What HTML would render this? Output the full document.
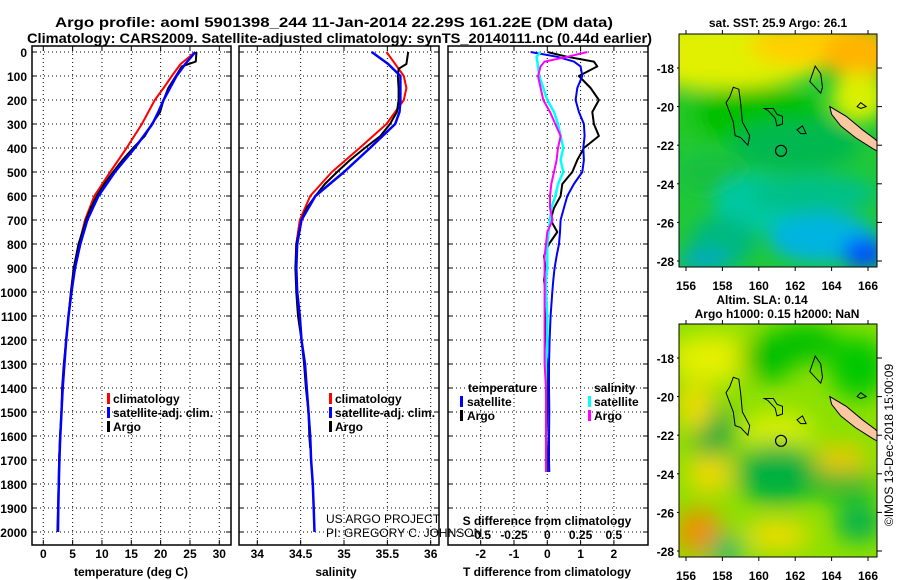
<!DOCTYPE html>
<html><head><meta charset="utf-8"><style>
html,body{margin:0;padding:0;background:#fff;}
svg{display:block;font-family:"Liberation Sans",sans-serif;}
.b{font-weight:bold;font-size:12px;}
.t{font-weight:bold;font-size:14px;}
</style></head><body>
<svg id="chart" width="900" height="580" viewBox="0 0 900 580" xmlns="http://www.w3.org/2000/svg">
<defs>
<filter id="blur1" x="-20%" y="-20%" width="140%" height="140%"><feGaussianBlur stdDeviation="9"/></filter>
<filter id="blur2" x="-20%" y="-20%" width="140%" height="140%"><feGaussianBlur stdDeviation="12"/></filter>
<clipPath id="clipMap1"><rect x="679" y="34" width="198" height="233"/></clipPath>
<clipPath id="clipMap2"><rect x="679" y="324" width="198" height="233"/></clipPath>
</defs>
<text class="t" x="55" y="27" textLength="558" lengthAdjust="spacingAndGlyphs">Argo profile: aoml 5901398_244 11-Jan-2014 22.29S 161.22E (DM data)</text>
<text class="t" x="27" y="43" textLength="625" lengthAdjust="spacingAndGlyphs">Climatology: CARS2009. Satellite-adjusted climatology: synTS_20140111.nc (0.44d earlier)</text>
<g id="panels"></g>
<g id="maps"></g>
</svg>
<script>
// ---------- data ----------
const depthTicks = [0,100,200,300,400,500,600,700,800,900,1000,1100,1200,1300,1400,1500,1600,1700,1800,1900,2000];
const tempTicks = [0,5,10,15,20,25,30];
const salTicks = [34,34.5,35,35.5,36];
const tdiffTicks = [-2,-1,0,1,2];
const sdiffTicks = [-0.5,-0.25,0,0.25,0.5];
const sdiffTickLabels = ["-0.5","-0.25","0","0.25","0.5"];

const argoDepth = [0,40,60,100,150,200,250,300,350,400,450,500,550,600,650,700,800,900,1000,1100,1200,1300,1400,1500,1600,1700,1800,1900,2000];
const argoTemp  = [26.1,26.0,23.6,22.6,21.3,20.5,19.9,18.5,17.3,15.3,13.5,11.9,10.4,9.1,8.1,7.3,6.0,5.2,4.7,4.3,3.9,3.5,3.2,3.1,2.85,2.7,2.6,2.5,2.4];
const argoSalDepth = [0,50,70,100,150,200,250,300,350,400,450,500,550,600,650,700,800,900,1000,1100,1200,1300,1400,1500,1600,1650];
const argoSal   = [35.74,35.72,35.63,35.62,35.63,35.63,35.61,35.53,35.42,35.24,35.07,34.92,34.78,34.67,34.57,34.51,34.45,34.44,34.45,34.47,34.51,34.54,34.56,34.59,34.6,34.61];

const climDepth = [0,50,100,150,200,300,400,500,600,700,800,900,1000,1100,1200,1300,1400,1500,1600,1700];
const climTemp  = [25.9,23.4,21.9,20.5,19.0,16.8,14.2,11.4,8.7,7.1,6.1,5.2,4.7,4.3,3.9,3.6,3.3,3.1,2.9,2.7];
const climSal   = [35.49,35.59,35.69,35.72,35.69,35.49,35.18,34.86,34.61,34.49,34.45,34.45,34.46,34.49,34.51,34.55,34.57,34.59,34.61,34.62];

const satDepth = [0,50,100,150,200,250,300,400,500,600,700,800,900,1000,1100,1200,1300,1400,1500,1600,1700,1800,1900,2000];
const satTemp  = [25.9,24.2,22.7,21.6,20.5,19.6,18.6,15.6,12.2,9.4,7.5,6.3,5.4,4.8,4.3,3.9,3.6,3.3,3.1,2.9,2.75,2.65,2.55,2.5];
const satSal   = [35.32,35.51,35.65,35.65,35.65,35.64,35.59,35.3,35.0,34.67,34.51,34.46,34.45,34.46,34.49,34.51,34.55,34.57,34.59,34.61,34.62,34.64,34.65,34.66];

const diffDepth = [0,20,40,60,100,150,200,250,300,350,400,450,500,550,600,650,700,750,800,850,900,950,1000,1100,1200,1300,1400,1500,1600,1700,1750];
const tSatDiff  = [-0.5,0.3,0.8,1.0,1.05,0.9,0.85,0.95,1.1,1.12,1.08,1.1,1.05,0.8,0.6,0.5,0.4,0.38,0.35,0.28,0.22,0.18,0.15,0.1,0.07,0.05,0.05,0.06,0.05,0.05,0.06];
const tArgoDiff = [0.0,0.6,1.4,1.5,0.95,1.3,1.55,1.35,1.4,1.55,1.1,0.9,0.75,0.45,0.4,0.2,0.1,0.3,0.05,-0.1,-0.05,-0.1,-0.05,-0.05,-0.05,0.0,0.0,0.0,-0.02,0.0,0.0];
const sSatDiff  = [-0.05,-0.08,-0.075,-0.07,-0.06,-0.03,0.0,0.05,0.08,0.1,0.12,0.1,0.12,0.08,0.06,0.03,0.02,0.01,0.0,0.0,0.0,-0.01,-0.01,0.0,0.0,-0.01,-0.01,-0.01,-0.01,-0.01,-0.01];
const sArgoDiff = [0.3,0.15,-0.02,-0.05,-0.07,-0.05,-0.03,0.02,0.06,0.1,0.08,0.07,0.05,0.03,0.02,0.02,0.04,0.0,-0.01,-0.02,-0.02,-0.02,-0.02,-0.02,-0.02,-0.02,-0.01,-0.01,-0.01,-0.01,-0.01];

const mapLonTicks = [156,158,160,162,164,166];
const mapLatTicks = [-18,-20,-22,-24,-26,-28];
const floatLon = 161.22, floatLat = -22.29;

// ---------- helpers ----------
const NS = "http://www.w3.org/2000/svg";
const Y0 = 52, PXD = 0.24, PB = 545, PT = 46;
function yD(d){ return Y0 + d*PXD; }
function mk(tag, attrs, parent){ const e=document.createElementNS(NS,tag); for(const k in attrs) e.setAttribute(k,attrs[k]); if(parent) parent.appendChild(e); return e; }
const panels = document.getElementById('panels');

function drawPanel(name, x0, x1, xf, ticks, tickLabels, showDepth){
  const g = mk('g',{},panels);
  
  
  mk('rect',{x:x0,y:PT,width:x1-x0,height:PB-PT,fill:'#fff',stroke:'#000','stroke-width':1.5},g);
  depthTicks.forEach(d=>{
    const y=yD(d);
    const gl = mk('line',{x1:x0,x2:x1,y1:y,y2:y,stroke:'#000','stroke-width':1,'stroke-dasharray':'1 3'},g);
    
    
    mk('line',{x1:x0,x2:x0+5,y1:y,y2:y,stroke:'#000'},g);
    mk('line',{x1:x1-5,x2:x1,y1:y,y2:y,stroke:'#000'},g);
    if(showDepth){
      const t = mk('text',{x:27,y:y+5,'text-anchor':'end',class:'b'},g);
      t.textContent = d;
      
      
    }
  });
  ticks.forEach((v,i)=>{
    const x=xf(v);
    const gl = mk('line',{x1:x,x2:x,y1:PT,y2:PB,stroke:'#000','stroke-width':1,'stroke-dasharray':'1 3'},g);
    
    
    mk('line',{x1:x,x2:x,y1:PT,y2:PT+5,stroke:'#000'},g);
    mk('line',{x1:x,x2:x,y1:PB-5,y2:PB,stroke:'#000'},g);
    const t = mk('text',{x:x,y:558,'text-anchor':'middle',class:'b'},g);
    t.textContent = tickLabels ? tickLabels[i] : v;
    
    
  });
  return g;
}
function line(g, depths, vals, xf, color, w, name){
  const pts = depths.map((d,i)=>xf(vals[i]).toFixed(1)+','+yD(d).toFixed(1)).join(' ');
  const p = mk('polyline',{points:pts,fill:'none',stroke:color,'stroke-width':w,'stroke-linejoin':'round'},g);
  
  
}
function label(g, x, y, txt, name, cls, anchor){
  const t = mk('text',{x:x,y:y,class:cls||'b','text-anchor':anchor||'start'},g);
  t.textContent = txt;
  
  
  return t;
}
function legendBar(g,x,y,color,name){
  const r = mk('rect',{x:x,y:y-10,width:3,height:11,fill:color},g);
  
  
}

// Panel 1: temperature
const xT = v => 43.3 + v*5.867;
const g1 = drawPanel('temperature-panel', 32, 231, xT, tempTicks, null, true);
line(g1, climDepth, climTemp, xT, '#ff0000', 2, 'temperature-climatology-line');
line(g1, argoDepth, argoTemp, xT, '#000000', 2, 'temperature-argo-line');
line(g1, satDepth, satTemp, xT, '#0000ff', 2.5, 'temperature-satellite-line');
label(g1, 131, 576, 'temperature (deg C)', 'temperature-axis-title', 'b', 'middle');
legendBar(g1,107,403,'#ff0000','legend-climatology-swatch'); label(g1,113,403,'climatology','legend-climatology');
legendBar(g1,107,417,'#0000ff','legend-satellite-swatch'); label(g1,113,417,'satellite-adj. clim.','legend-satellite');
legendBar(g1,107,431,'#000000','legend-argo-swatch'); label(g1,113,431,'Argo','legend-argo');

// Panel 2: salinity
const xS = v => 257.3 + (v-34)*86.7;
const g2 = drawPanel('salinity-panel', 239, 439, xS, salTicks, null, false);
line(g2, climDepth, climSal, xS, '#ff0000', 2, 'salinity-climatology-line');
line(g2, argoSalDepth, argoSal, xS, '#000000', 2, 'salinity-argo-line');
line(g2, satDepth, satSal, xS, '#0000ff', 2.5, 'salinity-satellite-line');
label(g2, 336, 576, 'salinity', 'salinity-axis-title', 'b', 'middle');
legendBar(g2,329,403,'#ff0000','legend2-climatology-swatch'); label(g2,335,403,'climatology','legend2-climatology');
legendBar(g2,329,417,'#0000ff','legend2-satellite-swatch'); label(g2,335,417,'satellite-adj. clim.','legend2-satellite');
legendBar(g2,329,431,'#000000','legend2-argo-swatch'); label(g2,335,431,'Argo','legend2-argo');

// Panel 3: differences
const xTD = v => 547.3 + v*33.3;
const xSD = v => 547.3 + v*133.2;
const g3 = drawPanel('difference-panel', 448, 648, xTD, tdiffTicks, null, false);
sdiffTicks.forEach((v,i)=>{
  label(g3, xSD(v), 539, sdiffTickLabels[i], 'sdiff-tick-label', 'b', 'middle');
});
line(g3, diffDepth, tArgoDiff, xTD, '#000000', 2, 'tdiff-argo-line');
line(g3, diffDepth, tSatDiff, xTD, '#0000ff', 2, 'tdiff-satellite-line');
line(g3, diffDepth, sSatDiff, xSD, '#00ffff', 2.5, 'sdiff-satellite-line');
line(g3, diffDepth, sArgoDiff, xSD, '#ff00ff', 2, 'sdiff-argo-line');
label(g3, 547, 525, 'S difference from climatology', 'sdiff-axis-title', 'b', 'middle');
label(g3, 547, 576, 'T difference from climatology', 'tdiff-axis-title', 'b', 'middle');
label(g3, 468, 392, 'temperature', 'legend3-temperature-header');
legendBar(g3,460,406,'#0000ff','legend3-tsat-swatch'); label(g3,467,406,'satellite','legend3-tsat');
legendBar(g3,460,420,'#000000','legend3-targo-swatch'); label(g3,467,420,'Argo','legend3-targo');
label(g3, 594, 392, 'salinity', 'legend3-salinity-header');
legendBar(g3,588,406,'#00ffff','legend3-ssat-swatch'); label(g3,594,406,'satellite','legend3-ssat');
legendBar(g3,588,420,'#ff00ff','legend3-sargo-swatch'); label(g3,594,420,'Argo','legend3-sargo');

const credit = mk('g',{},panels);


const c1 = mk('text',{x:326,y:523,'font-size':'12'},credit); c1.textContent='US ARGO PROJECT';
const c2 = mk('text',{x:326,y:537,'font-size':'12'},credit); c2.textContent='PI: GREGORY C. JOHNSON';

// ---------- maps ----------
const maps = document.getElementById('maps');
function drawMap(name, top, clipId, bg, blobs, blurId){
  const g = mk('g',{},maps);
  
  
  const lx = lon => 686 + (lon-156)*18.2;
  const ly = lat => top + 34 + (-18-lat)*19.3;
  const inner = mk('g',{'clip-path':'url(#'+clipId+')'},g);
  mk('rect',{x:679,y:top,width:198,height:233,fill:bg},inner);
  const bg2 = mk('g',{filter:'url(#'+blurId+')'},inner);
  blobs.forEach(b=>mk('ellipse',{cx:lx(b[0]),cy:ly(b[1]),rx:b[2]*18.2,ry:b[3]*19.3,fill:b[4]},bg2));
  const isl = (pts,fill)=>{ const p=mk('polygon',{points:pts.map(q=>lx(q[0]).toFixed(1)+','+ly(q[1]).toFixed(1)).join(' '),fill:fill||'none',stroke:'#000','stroke-width':1},inner);   };
  isl([[158.4,-19.5],[158.6,-19.0],[158.9,-19.1],[159.0,-19.8],[159.1,-20.8],[159.5,-21.5],[159.4,-22.0],[159.0,-21.6],[158.7,-21.5],[158.6,-20.8],[158.4,-20.3],[158.2,-19.8]]);
  isl([[160.3,-20.1],[160.8,-20.1],[161.0,-20.4],[161.3,-20.5],[161.3,-20.9],[161.0,-21.0],[160.9,-20.6],[160.5,-20.2]]);
  isl([[162.1,-21.2],[162.4,-21.0],[162.6,-21.4],[162.3,-21.4]]);
  isl([[162.8,-18.7],[163.1,-17.9],[163.4,-18.3],[163.5,-19.0],[163.4,-19.3],[163.1,-19.0]]);
  isl([[165.4,-20.0],[165.6,-19.8],[165.9,-20.0],[165.6,-20.1]]);
  isl([[163.9,-20.0],[164.8,-20.5],[165.7,-21.2],[166.4,-21.7],[166.9,-22.2],[166.9,-22.5],[166.3,-22.2],[165.3,-21.6],[164.5,-21.0],[164.0,-20.4]],'#fac8a0');
  const circ = mk('circle',{cx:lx(floatLon),cy:ly(floatLat),r:5.5,fill:'none',stroke:'#000','stroke-width':1.2},inner);
  
  
  mk('rect',{x:679,y:top,width:198,height:233,fill:'none',stroke:'#000','stroke-width':1},g);
  mapLonTicks.forEach(v=>{
    const x=lx(v);
    mk('line',{x1:x,x2:x,y1:top,y2:top-4,stroke:'#000'},g);
    mk('line',{x1:x,x2:x,y1:top+233,y2:top+237,stroke:'#000'},g);
    label(g,x,top+256,String(v),'map-lon-tick-label','b','middle');
  });
  mapLatTicks.forEach(v=>{
    const y=ly(v);
    mk('line',{x1:677,x2:679,y1:y,y2:y,stroke:'#000'},g);
    mk('line',{x1:877,x2:882,y1:y,y2:y,stroke:'#000'},g);
    label(g,674,y+5,String(v),'map-lat-tick-label','b','end');
  });
}
const sstBlobs = [
 [158,-17.3,6,1.8,'#e0f000'],[163.5,-16.8,4,1.2,'#ffd000'],[165.5,-17.3,2,1.3,'#ffb400'],[165.5,-19.5,1.5,1.3,'#d8f000'],
 [157,-20.5,2.5,1.3,'#20c820'],[160,-20.5,3.5,1.5,'#00c000'],[162,-22,3.5,1.3,'#00b850'],[157.5,-23.5,2,1,'#14c040'],
 [160,-25,2.5,1.5,'#00c8a0'],[163,-24.5,3.5,1,'#00c088'],[163.5,-26.8,3,1.3,'#00b4e0'],[165.8,-27.6,1.2,0.8,'#0050ff'],
 [158,-27,1.8,1.3,'#00b880'],[157,-28,1.5,0.5,'#00a8c8']
];
const slaBlobs = [
 [157.5,-18,2.5,1.2,'#e6f000'],[160.5,-18,1.5,1.2,'#00c000'],[162.5,-17.2,2,1,'#00c000'],[165.5,-18.5,1.6,1.6,'#00c800'],
 [157.5,-21.8,1.2,1.4,'#00a840'],[156.5,-20.5,1,1.3,'#f0dc00'],[161,-21.8,2,1,'#d8f000'],
 [161,-24,2.3,1.6,'#00b040'],[164.5,-23.3,1.4,0.8,'#f0c800'],[164.5,-24.6,2.2,0.7,'#00b430'],
 [157.3,-24,1.3,1,'#f0d800'],[156.7,-27,1.3,1.2,'#f09000'],[158.2,-28,1,0.8,'#00b870'],[161,-27.2,1.8,0.8,'#f0dc00'],[165.5,-26.5,1.3,1,'#00b050']
];
drawMap('sst-map', 34, 'clipMap1', '#20c838', sstBlobs, 'blur1');
drawMap('sla-map', 324, 'clipMap2', '#8ce000', slaBlobs, 'blur2');
label(maps, 778, 27, 'sat. SST: 25.9 Argo: 26.1', 'sst-map-title', 'b', 'middle');
label(maps, 762, 304, 'Altim. SLA: 0.14', 'sla-map-title-line-1', 'b', 'middle');
label(maps, 777, 318, 'Argo h1000: 0.15 h2000: NaN', 'sla-map-title-line-2', 'b', 'middle');
const ts = mk('text',{x:0,y:0,'font-size':'12',transform:'translate(893,445) rotate(-90)','text-anchor':'middle'},maps);
ts.textContent = '©IMOS 13-Dec-2018 15:00:09';


</script>
</body></html>
